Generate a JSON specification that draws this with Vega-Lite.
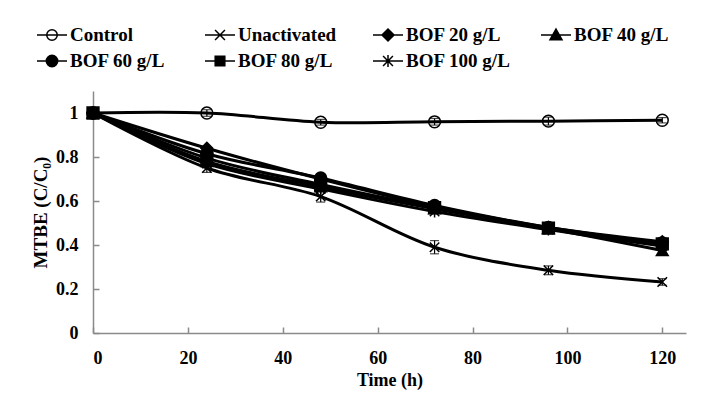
{
  "$schema": "https://vega.github.io/schema/vega-lite/v6.json",
  "width": 593,
  "height": 242,
  "autosize": {"type": "none"},
  "padding": {"left": 93, "top": 91, "right": 23, "bottom": 71},
  "background": "white",
  "config": {
    "view": {"stroke": null},
    "font": "Liberation Serif",
    "axis": {
      "labelFont": "Liberation Serif", "labelFontWeight": "bold", "labelFontSize": 18, "labelColor": "black",
      "titleFont": "Liberation Serif", "titleFontWeight": "bold", "titleFontSize": 18, "titleColor": "black",
      "domainColor": "#8a8a8a", "tickColor": "#8a8a8a", "domainWidth": 1.5, "tickWidth": 1.5, "grid": false
    },
    "legend": {
      "labelFont": "Liberation Serif", "labelFontWeight": "bold", "labelFontSize": 19, "labelColor": "black"
    }
  },
  "data": {
    "values": [
      {"series": "Control", "t": 0, "v": 1.0, "lo": 0.985, "hi": 1.015},
      {"series": "Control", "t": 24, "v": 1.0, "lo": 0.985, "hi": 1.015},
      {"series": "Control", "t": 48, "v": 0.958, "lo": 0.945, "hi": 0.971},
      {"series": "Control", "t": 72, "v": 0.96, "lo": 0.945, "hi": 0.975},
      {"series": "Control", "t": 96, "v": 0.963, "lo": 0.945, "hi": 0.981},
      {"series": "Control", "t": 120, "v": 0.967, "lo": 0.955, "hi": 0.979},
      {"series": "Unactivated", "t": 0, "v": 1.0, "lo": 0.98, "hi": 1.02},
      {"series": "Unactivated", "t": 24, "v": 0.75, "lo": 0.73, "hi": 0.77},
      {"series": "Unactivated", "t": 48, "v": 0.62, "lo": 0.595, "hi": 0.645},
      {"series": "Unactivated", "t": 72, "v": 0.39, "lo": 0.36, "hi": 0.42},
      {"series": "Unactivated", "t": 96, "v": 0.285, "lo": 0.265, "hi": 0.305},
      {"series": "Unactivated", "t": 120, "v": 0.232, "lo": 0.217, "hi": 0.247},
      {"series": "BOF 20 g/L", "t": 0, "v": 1.0},
      {"series": "BOF 20 g/L", "t": 24, "v": 0.84},
      {"series": "BOF 20 g/L", "t": 48, "v": 0.70},
      {"series": "BOF 20 g/L", "t": 72, "v": 0.575},
      {"series": "BOF 20 g/L", "t": 96, "v": 0.48},
      {"series": "BOF 20 g/L", "t": 120, "v": 0.415},
      {"series": "BOF 40 g/L", "t": 0, "v": 1.0},
      {"series": "BOF 40 g/L", "t": 24, "v": 0.78},
      {"series": "BOF 40 g/L", "t": 48, "v": 0.665},
      {"series": "BOF 40 g/L", "t": 72, "v": 0.565},
      {"series": "BOF 40 g/L", "t": 96, "v": 0.475},
      {"series": "BOF 40 g/L", "t": 120, "v": 0.375},
      {"series": "BOF 60 g/L", "t": 0, "v": 1.0},
      {"series": "BOF 60 g/L", "t": 24, "v": 0.815},
      {"series": "BOF 60 g/L", "t": 48, "v": 0.705},
      {"series": "BOF 60 g/L", "t": 72, "v": 0.58},
      {"series": "BOF 60 g/L", "t": 96, "v": 0.48},
      {"series": "BOF 60 g/L", "t": 120, "v": 0.41},
      {"series": "BOF 80 g/L", "t": 0, "v": 1.0},
      {"series": "BOF 80 g/L", "t": 24, "v": 0.795},
      {"series": "BOF 80 g/L", "t": 48, "v": 0.675},
      {"series": "BOF 80 g/L", "t": 72, "v": 0.57},
      {"series": "BOF 80 g/L", "t": 96, "v": 0.477},
      {"series": "BOF 80 g/L", "t": 120, "v": 0.405},
      {"series": "BOF 100 g/L", "t": 0, "v": 1.0},
      {"series": "BOF 100 g/L", "t": 24, "v": 0.77},
      {"series": "BOF 100 g/L", "t": 48, "v": 0.655},
      {"series": "BOF 100 g/L", "t": 72, "v": 0.552},
      {"series": "BOF 100 g/L", "t": 96, "v": 0.47},
      {"series": "BOF 100 g/L", "t": 120, "v": 0.395}
    ]
  },
  "encoding": {
    "x": {
      "field": "t", "type": "quantitative",
      "scale": {"domain": [0, 125], "nice": false, "zero": true},
      "axis": {"title": "Time (h)", "values": [0, 20, 40, 60, 80, 100, 120], "tickSize": -6, "labelPadding": 22, "titlePadding": 4}
    },
    "y": {
      "field": "v", "type": "quantitative",
      "scale": {"domain": [0, 1.1], "nice": false},
      "axis": {"title": "MTBE (C/C₀)", "values": [0, 0.2, 0.4, 0.6, 0.8, 1], "format": "~g", "tickSize": -6, "labelPadding": 21, "titlePadding": 5, "titleFontSize": 19}
    }
  },
  "layer": [
    {
      "mark": {"type": "line", "color": "black", "strokeWidth": 3, "interpolate": "catmull-rom"},
      "encoding": {"detail": {"field": "series"}}
    },
    {
      "mark": {"type": "point", "stroke": "black", "strokeWidth": 1.5, "opacity": 1, "size": 140},
      "encoding": {
        "shape": {
          "field": "series", "type": "nominal",
          "scale": {
            "domain": ["Control", "Unactivated", "BOF 20 g/L", "BOF 40 g/L", "BOF 60 g/L", "BOF 80 g/L", "BOF 100 g/L"],
            "range": [
              "circle",
              "M-0.8,-0.8L0.8,0.8M-0.8,0.8L0.8,-0.8",
              "diamond",
              "triangle-up",
              "circle",
              "square",
              "M-0.8,-0.8L0.8,0.8M-0.8,0.8L0.8,-0.8M0,-1V1"
            ]
          },
          "legend": null
        },
        "fill": {
          "field": "series", "type": "nominal",
          "scale": {
            "domain": ["Control", "Unactivated", "BOF 20 g/L", "BOF 40 g/L", "BOF 60 g/L", "BOF 80 g/L", "BOF 100 g/L"],
            "range": ["transparent", "black", "black", "black", "black", "black", "black"]
          },
          "legend": null
        }
      }
    },
    {
      "transform": [{"filter": "datum.lo != null"}],
      "mark": {"type": "errorbar", "ticks": {"size": 9, "color": "black", "thickness": 1.2}, "rule": {"color": "black", "strokeWidth": 1.2}},
      "encoding": {
        "y": {"field": "lo", "type": "quantitative"},
        "y2": {"field": "hi"}
      }
    },
    {
      "transform": [{"filter": "false"}],
      "mark": {"type": "point", "stroke": "black", "strokeWidth": 2.5, "size": 900, "opacity": 1},
      "encoding": {
        "shape": {
          "field": "series", "type": "nominal",
          "scale": {
            "domain": ["Control", "Unactivated", "BOF 20 g/L", "BOF 40 g/L", "BOF 60 g/L", "BOF 80 g/L", "BOF 100 g/L"],
            "range": [
              "M-1,0H1M0.35,0A0.35,0.35 0 1,1 -0.35,0A0.35,0.35 0 1,1 0.35,0",
              "M-1,0H1M-0.33,-0.33L0.33,0.33M-0.33,0.33L0.33,-0.33",
              "M-1,0H1M0,-0.4L0.4,0L0,0.4L-0.4,0Z",
              "M-1,0H1M0,-0.4L0.4,0.32L-0.4,0.32Z",
              "M-1,0H1M0.38,0A0.38,0.38 0 1,1 -0.38,0A0.38,0.38 0 1,1 0.38,0",
              "M-1,0H1M-0.32,-0.32H0.32V0.32H-0.32Z",
              "M-1,0H1M-0.33,-0.33L0.33,0.33M-0.33,0.33L0.33,-0.33M0,-0.4V0.4"
            ]
          },
          "legend": {
            "title": null, "orient": "none", "legendX": -57, "legendY": -72,
            "direction": "horizontal", "columns": 4, "gridAlign": "all",
            "columnPadding": 27, "rowPadding": 0, "labelOffset": 2,
            "symbolSize": 900,
            "encode": {"symbols": {"update": {"stroke": {"value": "black"}, "strokeWidth": {"value": 2.8}, "opacity": {"value": 1}}}}
          }
        },
        "fill": {
          "field": "series", "type": "nominal",
          "scale": {
            "domain": ["Control", "Unactivated", "BOF 20 g/L", "BOF 40 g/L", "BOF 60 g/L", "BOF 80 g/L", "BOF 100 g/L"],
            "range": ["transparent", "black", "black", "black", "black", "black", "black"]
          },
          "legend": {
            "title": null, "orient": "none", "legendX": -57, "legendY": -72,
            "direction": "horizontal", "columns": 4, "gridAlign": "all",
            "columnPadding": 27, "rowPadding": 0, "labelOffset": 2,
            "symbolSize": 900,
            "encode": {"symbols": {"update": {"stroke": {"value": "black"}, "strokeWidth": {"value": 2.8}, "opacity": {"value": 1}}}}
          }
        }
      }
    }
  ],
  "resolve": {"scale": {"shape": "independent", "fill": "independent"}}
}
